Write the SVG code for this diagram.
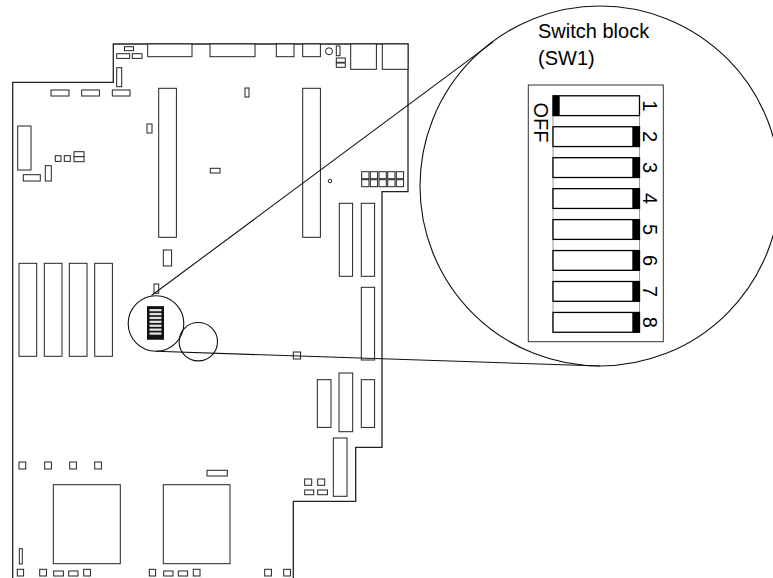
<svg xmlns="http://www.w3.org/2000/svg" width="773" height="578" viewBox="0 0 773 578">
<style>
.o{fill:none;stroke:#222;stroke-width:1.3}
.c{fill:#fff;stroke:#222;stroke-width:1}
.ln{fill:none;stroke:#111;stroke-width:1.1}
.t{font-family:"Liberation Sans",Arial,sans-serif;font-size:20px;fill:#000}
.sw{fill:#fff;stroke:#000;stroke-width:1.3}
.k{fill:#000}
</style>
<rect width="773" height="578" fill="#fff"/>
<g id="board">
<path class="o" d="M12.7,578 V82.3 H113.3 V44 H408 V191.7 H382 V447.3 H355.7 V501.3 H293.3 V578"/>
<!-- top connectors -->
<rect class="c" x="124.5" y="46.7" width="9" height="4"/>
<rect class="c" x="116.7" y="53.7" width="13" height="4.7"/>
<rect class="c" x="132.3" y="53.7" width="9.7" height="4.7"/>
<rect class="c" x="147.7" y="44" width="44.3" height="12.7"/>
<rect class="c" x="210" y="44" width="45" height="12.7"/>
<rect class="c" x="276.3" y="44" width="17.7" height="12.7"/>
<rect class="c" x="302.7" y="44" width="17.7" height="12.7"/>
<circle class="c" cx="329" cy="51.3" r="3.5"/>
<rect class="c" x="336.3" y="46" width="3.7" height="9.7"/>
<rect class="c" x="336.3" y="58" width="9" height="4.3"/>
<rect class="c" x="336.3" y="63" width="9" height="4.3"/>
<rect class="c" x="350.7" y="44" width="25.7" height="25.3"/>
<rect class="c" x="382.3" y="44" width="25.7" height="25.3"/>
<rect class="c" x="116.7" y="67.7" width="5" height="19"/>
<rect class="c" x="51" y="90" width="18" height="6"/>
<rect class="c" x="81.7" y="90" width="17.7" height="6"/>
<rect class="c" x="112.3" y="90" width="17.7" height="6"/>
<!-- PCI-like long connectors -->
<rect class="c" x="158.7" y="88.3" width="17.7" height="149"/>
<rect class="c" x="302.7" y="88.3" width="17.7" height="149"/>
<rect class="c" x="245" y="88" width="4" height="9"/>
<rect class="c" x="147" y="124" width="5" height="9"/>
<rect class="c" x="17.7" y="126" width="13.3" height="44"/>
<rect class="c" x="55.3" y="155.7" width="5.7" height="5.7"/>
<rect class="c" x="64.3" y="155.7" width="6" height="5.7"/>
<rect class="c" x="74" y="151.7" width="10" height="5"/>
<rect class="c" x="74" y="156.7" width="10" height="5"/>
<rect class="c" x="23.3" y="174.7" width="17" height="6.3"/>
<rect class="c" x="45.3" y="165.7" width="6" height="15.3"/>
<rect class="c" x="210.3" y="168.3" width="9.7" height="4.7"/>
<circle class="c" cx="330" cy="181" r="1.8"/>
<rect class="c" x="361.7" y="171.7" width="7.3" height="7"/>
<rect class="c" x="370.3" y="171.7" width="7.3" height="7"/>
<rect class="c" x="379" y="171.7" width="7.3" height="7"/>
<rect class="c" x="387.7" y="171.7" width="7.3" height="7"/>
<rect class="c" x="396.3" y="171.7" width="7.3" height="7"/>
<rect class="c" x="361.7" y="179.7" width="7.3" height="7"/>
<rect class="c" x="370.3" y="179.7" width="7.3" height="7"/>
<rect class="c" x="379" y="179.7" width="7.3" height="7"/>
<rect class="c" x="387.7" y="179.7" width="7.3" height="7"/>
<rect class="c" x="396.3" y="179.7" width="7.3" height="7"/>
<!-- right connectors -->
<rect class="c" x="339.3" y="203.3" width="13.3" height="73"/>
<rect class="c" x="361.3" y="203.3" width="13.3" height="73"/>
<rect class="c" x="361.3" y="287.3" width="13.3" height="72.7"/>
<rect class="c" x="163.3" y="250" width="8.3" height="16"/>
<rect class="c" x="154" y="284" width="4.7" height="9.3"/>
<rect class="c" x="293.3" y="352" width="7.3" height="7"/>
<rect class="c" x="317.3" y="379.7" width="13.7" height="47.7"/>
<rect class="c" x="339" y="373" width="13.7" height="58.7"/>
<rect class="c" x="361.3" y="379.7" width="13.3" height="47.7"/>
<rect class="c" x="333.3" y="438" width="13.7" height="58.3"/>
<rect class="c" x="304.7" y="479" width="7" height="6.3"/>
<rect class="c" x="317.7" y="479" width="7" height="6.3"/>
<rect class="c" x="304.7" y="490" width="9" height="4.7"/>
<rect class="c" x="317.7" y="490" width="9.7" height="4.7"/>
<!-- memory slots -->
<rect class="c" x="19" y="263.3" width="17.7" height="93"/>
<rect class="c" x="44.3" y="263.3" width="17.7" height="93"/>
<rect class="c" x="69.3" y="263.3" width="17.7" height="93"/>
<rect class="c" x="94.7" y="263.3" width="17.7" height="93"/>
<rect class="c" x="19" y="462" width="6.7" height="7"/>
<rect class="c" x="44.7" y="462" width="6.7" height="7"/>
<rect class="c" x="69.7" y="462" width="6.7" height="7"/>
<rect class="c" x="94.7" y="462" width="6.7" height="7"/>
<!-- processors -->
<rect class="c" x="53.3" y="484.7" width="67" height="79"/>
<rect class="c" x="163.3" y="484.7" width="66.7" height="79"/>
<rect class="c" x="207" y="470.3" width="20.3" height="5.7"/>
<!-- bottom row -->
<rect class="c" x="19.3" y="548.7" width="3" height="15.3"/>
<rect class="c" x="17.3" y="569.3" width="6.3" height="6.7"/>
<rect class="c" x="39.7" y="569.3" width="6.7" height="6.7"/>
<rect class="c" x="53.7" y="571" width="9.7" height="5"/>
<rect class="c" x="68.7" y="571" width="9.3" height="5"/>
<rect class="c" x="83.7" y="569.3" width="6.7" height="6.7"/>
<rect class="c" x="149.3" y="569.3" width="6.3" height="6.7"/>
<rect class="c" x="163.7" y="571" width="9.3" height="5"/>
<rect class="c" x="178.3" y="571" width="9.3" height="5"/>
<rect class="c" x="193.3" y="569.3" width="6.7" height="6.7"/>
<rect class="c" x="264.7" y="569.3" width="6.7" height="6.7"/>
<rect class="c" x="283.7" y="569.3" width="6.7" height="6.7"/>
</g>
<g id="sw1-small">
<circle class="ln" cx="156" cy="323.5" r="27.8"/>
<rect x="147.5" y="306.7" width="16" height="32.5" fill="#111" stroke="#111" stroke-width="1"/>
<g fill="#ddd">
<rect x="149.5" y="309" width="12" height="2.3"/>
<rect x="149.5" y="312.9" width="12" height="2.3"/>
<rect x="149.5" y="316.8" width="12" height="2.3"/>
<rect x="149.5" y="320.7" width="12" height="2.3"/>
<rect x="149.5" y="324.6" width="12" height="2.3"/>
<rect x="149.5" y="328.5" width="12" height="2.3"/>
<rect x="149.5" y="332.4" width="12" height="2.3"/>
</g>
</g>
<g id="battery">
<circle class="ln" cx="198.3" cy="341.7" r="19.2"/>
</g>
<g id="connectors">
<line class="ln" x1="151.5" y1="295.5" x2="493.2" y2="41.9"/>
<line class="ln" x1="156" y1="351.3" x2="600" y2="366"/>
</g>
<g id="zoom-circle">
<circle class="ln" cx="600" cy="186" r="180"/>
<text class="t" x="538" y="38.3">Switch block</text>
<text class="t" x="538" y="65.3">(SW1)</text>
</g>
<g id="switch-detail">
<rect x="528.3" y="85" width="135" height="256.7" fill="#fff" stroke="#333" stroke-width="1"/>
<rect x="553" y="96" width="86.5" height="236" fill="#fff" stroke="#999" stroke-width="1"/>
<rect class="sw" x="553" y="95.8" width="86.5" height="19.8"/><rect class="k" x="553" y="95.8" width="6.7" height="19.8"/>
<rect class="sw" x="553" y="126.75" width="86.5" height="19.8"/><rect class="k" x="632.3" y="126.75" width="7.2" height="19.8"/>
<rect class="sw" x="553" y="157.7" width="86.5" height="19.8"/><rect class="k" x="632.3" y="157.7" width="7.2" height="19.8"/>
<rect class="sw" x="553" y="188.65" width="86.5" height="19.8"/><rect class="k" x="632.3" y="188.65" width="7.2" height="19.8"/>
<rect class="sw" x="553" y="219.6" width="86.5" height="19.8"/><rect class="k" x="632.3" y="219.6" width="7.2" height="19.8"/>
<rect class="sw" x="553" y="250.55" width="86.5" height="19.8"/><rect class="k" x="632.3" y="250.55" width="7.2" height="19.8"/>
<rect class="sw" x="553" y="281.5" width="86.5" height="19.8"/><rect class="k" x="632.3" y="281.5" width="7.2" height="19.8"/>
<rect class="sw" x="553" y="312.45" width="86.5" height="19.8"/><rect class="k" x="632.3" y="312.45" width="7.2" height="19.8"/>
<g class="t" text-anchor="middle">
<text transform="translate(534,122.5) rotate(90)">OFF</text>
<text transform="translate(643,105.7) rotate(90)">1</text>
<text transform="translate(643,136.65) rotate(90)">2</text>
<text transform="translate(643,167.6) rotate(90)">3</text>
<text transform="translate(643,198.55) rotate(90)">4</text>
<text transform="translate(643,229.5) rotate(90)">5</text>
<text transform="translate(643,260.45) rotate(90)">6</text>
<text transform="translate(643,291.4) rotate(90)">7</text>
<text transform="translate(643,322.35) rotate(90)">8</text>
</g>
</g>
</svg>
